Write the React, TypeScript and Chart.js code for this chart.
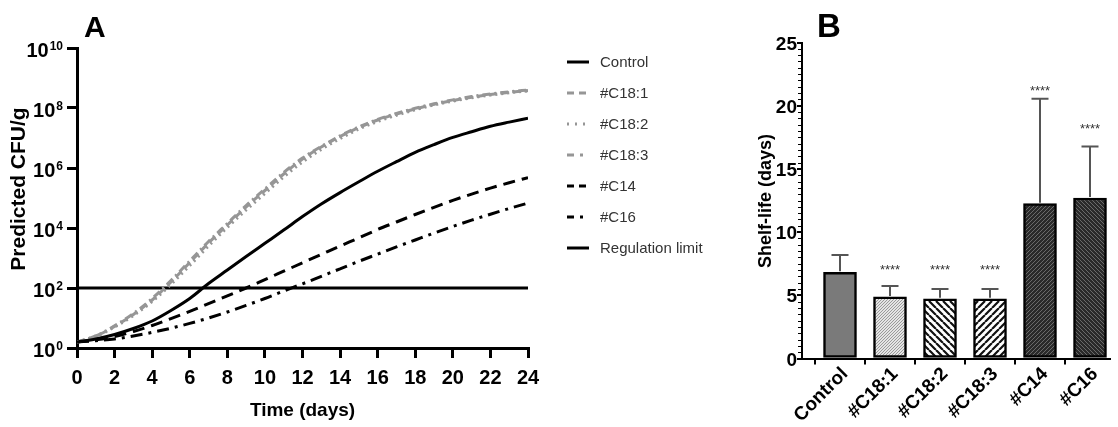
import React, { useEffect, useRef } from 'react';
import { Chart, registerables } from 'chart.js';

Chart.register(...registerables);

const FONT = '"Liberation Sans", Arial, Helvetica, sans-serif';

// ---------- Panel A data (log10 CFU/g vs days) ----------
const days = [0, 1, 2, 3, 4, 5, 6, 7, 8, 9, 10, 11, 12, 13, 14, 15, 16, 17, 18, 19, 20, 21, 22, 23, 24];
const control = [0.2, 0.3, 0.45, 0.65, 0.9, 1.25, 1.65, 2.15, 2.6, 3.05, 3.49, 3.93, 4.38, 4.8, 5.18, 5.54, 5.89, 6.21, 6.52, 6.78, 7.02, 7.21, 7.39, 7.53, 7.66];
const c18_1 = [0.2, 0.4, 0.72, 1.12, 1.6, 2.2, 2.85, 3.5, 4.1, 4.7, 5.25, 5.8, 6.3, 6.7, 7.05, 7.35, 7.6, 7.8, 7.97, 8.12, 8.25, 8.36, 8.45, 8.52, 8.58];
const c18_2 = [0.2, 0.38, 0.7, 1.08, 1.55, 2.12, 2.75, 3.4, 4.02, 4.6, 5.15, 5.7, 6.2, 6.62, 6.98, 7.3, 7.55, 7.76, 7.94, 8.1, 8.23, 8.34, 8.43, 8.51, 8.57];
const c18_3 = [0.2, 0.4, 0.74, 1.15, 1.65, 2.25, 2.9, 3.55, 4.15, 4.75, 5.3, 5.85, 6.33, 6.72, 7.07, 7.37, 7.62, 7.82, 7.99, 8.14, 8.27, 8.38, 8.47, 8.54, 8.6];
const c14 = [0.2, 0.27, 0.38, 0.55, 0.75, 0.98, 1.22, 1.48, 1.74, 2.0, 2.28, 2.56, 2.84, 3.12, 3.4, 3.67, 3.95, 4.2, 4.45, 4.69, 4.92, 5.13, 5.33, 5.51, 5.68];
const c16 = [0.2, 0.24, 0.3, 0.4, 0.52, 0.66, 0.82, 1.0, 1.2, 1.42, 1.65, 1.9, 2.14, 2.39, 2.64, 2.89, 3.13, 3.37, 3.6, 3.83, 4.05, 4.26, 4.46, 4.65, 4.83];
const limitDays = [0, 24];
const limitLog = [2, 2];
const xTicksA = [0, 2, 4, 6, 8, 10, 12, 14, 16, 18, 20, 22, 24];
const yTicksA = [0, 2, 4, 6, 8, 10];

// ---------- Panel B data ----------
const categories = ['Control', '#C18:1', '#C18:2', '#C18:3', '#C14', '#C16'];
const shelfLife = [6.82, 4.87, 4.72, 4.72, 12.25, 12.7];
const shelfLifeUpper = [8.19, 5.74, 5.5, 5.5, 20.55, 16.78];
const significance = ['', '****', '****', '****', '****', '****'];
const significanceLevel = [0, 7.15, 7.15, 7.15, 21.25, 18.25];
const yTicksB = [0, 5, 10, 15, 20, 25];

function pts(xs: number[], ys: number[]) {
  return xs.map((x, i) => ({ x, y: ys[i] }));
}

function hatch(bg: string, fg: string, size: number, lw: number, dir: '/' | '\\') {
  const c = document.createElement('canvas');
  c.width = size;
  c.height = size;
  const g = c.getContext('2d')!;
  g.fillStyle = bg;
  g.fillRect(0, 0, size, size);
  g.strokeStyle = fg;
  g.lineWidth = lw;
  g.beginPath();
  for (const o of [-size, 0, size]) {
    if (dir === '/') {
      g.moveTo(o, size);
      g.lineTo(o + size, 0);
    } else {
      g.moveTo(o, 0);
      g.lineTo(o + size, size);
    }
  }
  g.stroke();
  return g.createPattern(c, 'repeat')!;
}

const aText = {
  id: 'aText',
  afterDraw(chart: any) {
    const { ctx } = chart;
    const x = chart.scales.x;
    const y = chart.scales.y;
    ctx.save();
    ctx.fillStyle = '#000';
    ctx.textBaseline = 'alphabetic';
    // y tick labels 10^n
    for (const p of yTicksA) {
      const py = y.getPixelForValue(p);
      ctx.font = `bold 12px ${FONT}`;
      ctx.textAlign = 'right';
      const sup = String(p);
      ctx.fillText(sup, 63, py + 2);
      const sw = ctx.measureText(sup).width;
      ctx.font = `bold 20px ${FONT}`;
      ctx.fillText('10', 63 - sw - 1, py + 8.5);
    }
    // x tick labels
    ctx.font = `bold 20px ${FONT}`;
    ctx.textAlign = 'center';
    for (const t of xTicksA) ctx.fillText(String(t), x.getPixelForValue(t), 384);
    // axis titles
    ctx.font = `bold 19px ${FONT}`;
    ctx.fillText('Time (days)', (x.left + x.right) / 2, 416);
    ctx.save();
    ctx.translate(25, 189);
    ctx.rotate(-Math.PI / 2);
    ctx.font = `bold 21px ${FONT}`;
    ctx.fillText('Predicted CFU/g', 0, 0);
    ctx.restore();
    // panel letter
    ctx.font = `bold 30px ${FONT}`;
    ctx.textAlign = 'left';
    ctx.fillText('A', 84, 37);
    // legend
    const ds = chart.data.datasets;
    ds.forEach((d: any, i: number) => {
      const ly = 62 + i * 31;
      ctx.save();
      ctx.strokeStyle = d.borderColor;
      ctx.lineWidth = 3;
      ctx.setLineDash(d.legendDash || []);
      ctx.beginPath();
      ctx.moveTo(567, ly);
      ctx.lineTo(589, ly);
      ctx.stroke();
      ctx.restore();
      ctx.fillStyle = '#333';
      ctx.font = `15px ${FONT}`;
      ctx.textAlign = 'left';
      ctx.textBaseline = 'middle';
      ctx.fillText(d.label, 600, ly + 1);
    });
    ctx.restore();
  },
};

const bText = {
  id: 'bText',
  afterDatasetsDraw(chart: any) {
    const { ctx } = chart;
    const x = chart.scales.x;
    const y = chart.scales.y;
    ctx.save();
    // error bars
    ctx.strokeStyle = '#555';
    ctx.lineWidth = 2;
    shelfLife.forEach((m, i) => {
      const px = x.getPixelForValue(i);
      const top = y.getPixelForValue(shelfLifeUpper[i]);
      const base = y.getPixelForValue(m);
      ctx.beginPath();
      ctx.moveTo(px, base - 1);
      ctx.lineTo(px, top);
      ctx.moveTo(px - 8.5, top);
      ctx.lineTo(px + 8.5, top);
      ctx.stroke();
    });
    // stars
    ctx.fillStyle = '#333';
    ctx.font = `13px ${FONT}`;
    ctx.textAlign = 'center';
    ctx.textBaseline = 'middle';
    significance.forEach((s, i) => {
      if (!s) return;
      ctx.fillText(s, x.getPixelForValue(i), y.getPixelForValue(significanceLevel[i]) + 2);
    });
    ctx.restore();
  },
  afterDraw(chart: any) {
    const { ctx } = chart;
    const x = chart.scales.x;
    const y = chart.scales.y;
    ctx.save();
    // minor ticks on y axis
    ctx.strokeStyle = '#000';
    ctx.lineWidth = 1;
    ctx.beginPath();
    for (let v = 0; v <= 25; v += 0.5) {
      if (v % 5 === 0) continue;
      const py = Math.round(y.getPixelForValue(v)) + 0.5;
      ctx.moveTo(x.left - 1, py);
      ctx.lineTo(x.left - 4, py);
    }
    ctx.stroke();
    ctx.fillStyle = '#000';
    ctx.font = `bold 19px ${FONT}`;
    ctx.textAlign = 'right';
    ctx.textBaseline = 'alphabetic';
    for (const t of yTicksB) ctx.fillText(String(t), x.left - 5, y.getPixelForValue(t) + 7);
    // rotated category labels
    ctx.font = `bold 19px ${FONT}`;
    categories.forEach((c, i) => {
      const px = x.getPixelForValue(i);
      ctx.save();
      ctx.translate(px + 5, 371);
      ctx.rotate(-Math.PI / 4);
      ctx.textAlign = 'right';
      ctx.textBaseline = 'middle';
      ctx.fillText(c, 0, 0);
      ctx.restore();
    });
    // y title
    ctx.save();
    ctx.translate(31, 201);
    ctx.rotate(-Math.PI / 2);
    ctx.font = `bold 18px ${FONT}`;
    ctx.textAlign = 'center';
    ctx.textBaseline = 'alphabetic';
    ctx.fillText('Shelf-life (days)', 0, 0);
    ctx.restore();
    // panel letter
    ctx.font = `bold 33px ${FONT}`;
    ctx.textAlign = 'left';
    ctx.fillText('B', 77, 37);
    ctx.restore();
  },
};

export default function App() {
  const refA = useRef<HTMLCanvasElement>(null);
  const refB = useRef<HTMLCanvasElement>(null);

  useEffect(() => {
    const gray = '#969696';
    const lineCommon = { pointRadius: 0, fill: false, cubicInterpolationMode: 'monotone' as const, borderWidth: 3 };
    const chartA = new Chart(refA.current!, {
      type: 'line',
      data: {
        datasets: [
          { label: 'Control', data: pts(days, control), borderColor: '#000', ...lineCommon, legendDash: [] } as any,
          { label: '#C18:1', data: pts(days, c18_1), borderColor: gray, borderDash: [8, 4], ...lineCommon, legendDash: [7, 5] } as any,
          { label: '#C18:2', data: pts(days, c18_2), borderColor: gray, borderDash: [2, 4], ...lineCommon, legendDash: [2, 6] } as any,
          { label: '#C18:3', data: pts(days, c18_3), borderColor: gray, borderDash: [8, 4, 2, 4], ...lineCommon, legendDash: [7, 6, 3, 20] } as any,
          { label: '#C14', data: pts(days, c14), borderColor: '#000', borderDash: [12, 7], ...lineCommon, legendDash: [7, 5] } as any,
          { label: '#C16', data: pts(days, c16), borderColor: '#000', borderDash: [12, 6, 3, 6], ...lineCommon, legendDash: [7, 6, 3, 20] } as any,
          { label: 'Regulation limit', data: pts(limitDays, limitLog), borderColor: '#000', ...lineCommon, legendDash: [] } as any,
        ],
      },
      options: {
        animation: false,
        responsive: false,
        maintainAspectRatio: false,
        layout: { padding: { left: 67, right: 212, top: 48, bottom: 69 } },
        plugins: { legend: { display: false }, tooltip: { enabled: false } },
        scales: {
          x: {
            type: 'linear',
            min: 0,
            max: 24,
            ticks: { stepSize: 2, display: false },
            grid: { drawOnChartArea: false, tickLength: 10, lineWidth: 3, color: '#000' },
            border: { color: '#000', width: 3 },
          },
          y: {
            type: 'linear',
            min: 0,
            max: 10,
            ticks: { stepSize: 2, display: false },
            grid: { drawOnChartArea: false, tickLength: 10, lineWidth: 3, color: '#000' },
            border: { color: '#000', width: 3 },
          },
        },
      },
      plugins: [aText],
    });

    const fills = [
      '#7a7a7a',
      hatch('#e4e4e4', '#9a9a9a', 3, 1, '/'),
      hatch('#ffffff', '#111111', 7, 2.2, '\\'),
      hatch('#ffffff', '#111111', 7, 2.2, '/'),
      hatch('#2a2a2a', '#6a6a6a', 4, 1, '/'),
      hatch('#2a2a2a', '#6a6a6a', 4, 1, '\\'),
    ];

    const chartB = new Chart(refB.current!, {
      type: 'bar',
      data: {
        datasets: [
          {
            label: 'Shelf-life',
            data: shelfLife.map((v, i) => ({ x: i, y: v })),
            backgroundColor: fills as any,
            borderColor: '#000',
            borderWidth: 2.5,
            borderSkipped: false,
            barThickness: 33,
          } as any,
        ],
      },
      options: {
        animation: false,
        responsive: false,
        maintainAspectRatio: false,
        layout: { padding: { left: 57, right: 8, top: 42.5, bottom: 62.5 } },
        plugins: { legend: { display: false }, tooltip: { enabled: false } },
        scales: {
          x: {
            type: 'linear',
            min: -0.76,
            max: 5.4,
            offset: false,
            ticks: { display: false },
            afterBuildTicks: (s: any) => {
              s.ticks = categories.map((_, i) => ({ value: i }));
            },
            grid: { drawOnChartArea: false, tickLength: 6, lineWidth: 2, color: '#000' },
            border: { color: '#000', width: 2 },
          },
          y: {
            type: 'linear',
            min: 0,
            max: 25,
            ticks: { stepSize: 5, display: false },
            grid: { drawOnChartArea: false, tickLength: 5, lineWidth: 2, color: '#000' },
            border: { color: '#000', width: 2 },
          },
        },
      },
      plugins: [bText],
    });

    return () => {
      chartA.destroy();
      chartB.destroy();
    };
  }, []);

  return (
    <div style={{ position: 'absolute', left: 0, top: 0, width: 1118, height: 427, background: '#fff' }}>
      <canvas ref={refA} width={740} height={427} style={{ position: 'absolute', left: 0, top: 0, width: 740, height: 427 }} />
      <canvas ref={refB} width={378} height={427} style={{ position: 'absolute', left: 740, top: 0, width: 378, height: 427 }} />
    </div>
  );
}
